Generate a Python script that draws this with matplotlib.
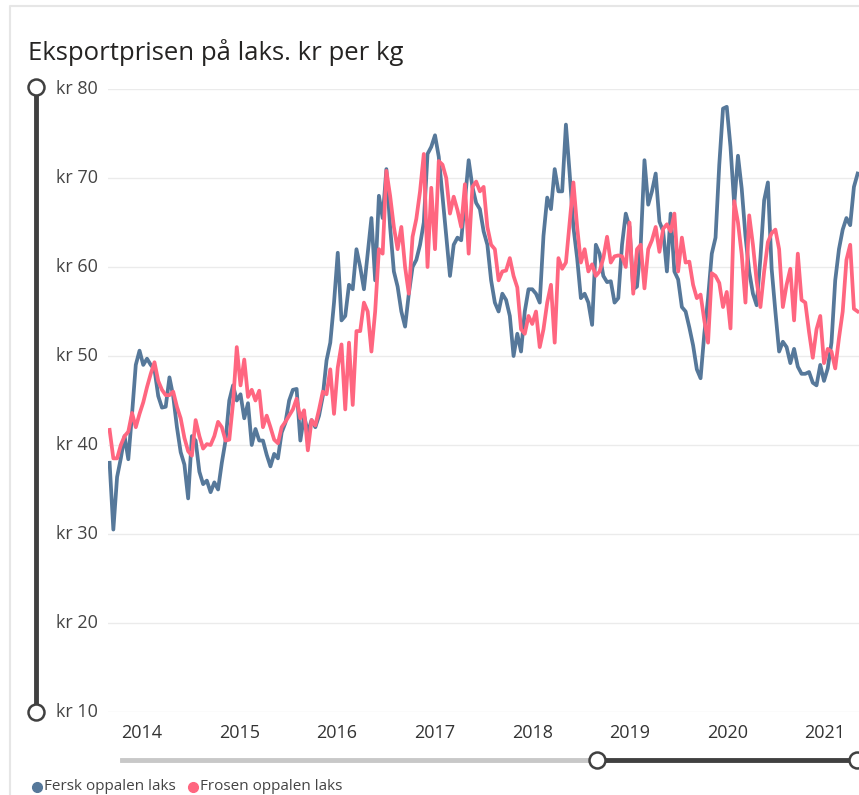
#!/usr/bin/env python3

import pandas as pd
import matplotlib
matplotlib.use("Agg")
import matplotlib.pyplot as plt

plt.rcParams["font.family"] = ["Open Sans", "DejaVu Sans"]

# biweekly export prices, kr per kg
start = "2013-09-02"

fersk = [
    38, 30.5, 36.4, 38.5, 41, 38.4, 43.5, 49, 50.6, 49,
    49.7, 49, 48.5, 45.5, 44.2, 44.3, 47.6, 45.5, 42, 39.2,
    37.8, 34, 41, 40.5, 37, 35.6, 36, 34.7, 35.8, 35,
    38, 40.5, 45, 46.7, 45, 45.7, 43, 44.7, 40, 41.8,
    40.5, 40.5, 38.9, 37.6, 39, 38.5, 41.4, 42.5, 45, 46.2,
    46.3, 40.5, 43.3, 41.4, 42.8, 42, 43.3, 45.5, 49.5, 51.5,
    56, 61.6, 54, 54.5, 58, 57.5, 62, 60, 57.5, 61.5,
    65.5, 58.5, 68, 65.5, 71, 64.5, 59.5, 57.8, 55, 53.3,
    57, 60, 60.8, 62.5, 65, 72.7, 73.5, 74.8, 72.4, 68,
    63.5, 59, 62.5, 63.3, 63, 67.5, 72, 69, 67.2, 66.5,
    64, 62.5, 58.5, 56, 55, 57, 56.3, 54.5, 50, 52.5,
    50.5, 55, 57.5, 57.5, 57, 56, 63.5, 67.8, 66.5, 71,
    68.5, 68.5, 76, 70.5, 64.5, 61, 56.5, 57, 56, 53.5,
    62.5, 61.5, 59, 58.3, 58.4, 56, 56.5, 62.5, 66, 64.5,
    57.5, 57.8, 62.5, 72, 67, 68.5, 70.5, 65.1, 64, 59.5,
    66, 59.5, 58.6, 55.5, 55, 53.2, 51.2, 48.5, 47.5, 52.5,
    56.5, 61.5, 63.3, 71.5, 77.8, 78, 73.5, 67, 72.5, 68.8,
    63.5, 59.5, 57, 55.7, 61, 67.5, 69.5, 59.8, 55, 50.5,
    51.6, 51, 49.2, 50.8, 48.8, 48, 48, 48.2, 47, 46.7,
    49, 47.2, 48.6, 51.5, 58.5, 62, 64.2, 65.5, 64.7, 69,
    70.5,
]

frosen = [
    41.7, 38.5, 38.5, 40, 41, 41.5, 43.6, 42, 43.5, 44.8,
    46.5, 48, 49.3, 47.2, 46.2, 45.6, 45.6, 46, 44.3, 43,
    40.8, 39.3, 38.8, 42.8, 41, 39.6, 40.1, 40, 41, 42.6,
    42, 40.5, 40.6, 44.7, 51, 46.7, 49.6, 45.4, 46.2, 45,
    46.1, 42, 43.3, 42, 40.6, 40.2, 42, 42.6, 43.3, 44,
    45.2, 43, 43.9, 39.4, 42.8, 42.2, 44, 46, 45.7, 48.5,
    43.5, 48.7, 51.3, 44, 51.5, 44.5, 52.8, 52.8, 56, 55,
    50.5, 55, 62, 61.5, 70.8, 68, 64.5, 62, 64.5, 60,
    57, 63.4, 65.4, 68.5, 72.7, 60, 68.9, 62, 71.9, 71.5,
    70, 66, 67.9, 66.4, 64.5, 69.3, 61.5, 69, 69.6, 68.5,
    69, 64.5, 62.5, 62, 58.5, 59.5, 59.6, 61, 59, 57.7,
    53, 52.5, 54.5, 53.6, 55, 51, 53, 56, 58, 51.5,
    61, 59.8, 60.5, 65, 69.5, 64.5, 60.5, 62, 59.5, 60.3,
    59, 59.5, 61, 63.4, 60.5, 61.2, 61.3, 61.2, 60, 65,
    57, 62, 62.5, 57.6, 62, 63, 64.5, 61.7, 64.3, 64.8,
    64, 66, 59.5, 63.3, 60.5, 60.6, 58, 56.5, 56.9, 54,
    51.5, 59.3, 59, 58.2, 55.5, 57.2, 53.1, 67.4, 65, 61.4,
    56, 65.8, 62.5, 58.4, 55.5, 59.5, 62.8, 63.8, 64.2, 62,
    55.5, 58, 59.8, 54, 61.5, 56.3, 56, 52.7, 49.8, 53,
    54.5, 49.2, 50.8, 50.5, 48.6, 52, 55, 60.8, 62.5, 55.3,
    55,
]

years = list(range(2014, 2022))
yvals = list(range(10, 81, 10))
labels = ["Fersk oppalen laks", "Frosen oppalen laks"]

BLUE = "#56789a"
PINK = "#ff6680"
DARK = "#404040"

dates = pd.date_range(start, periods=len(fersk), freq="14D")

W, H = 859, 795
fig = plt.figure(figsize=(W / 100, H / 100), dpi=100)
ax = fig.add_axes([108 / W, (H - 712) / H, (W - 108) / W, (712 - 89) / H])

ax.plot(dates, fersk, color=BLUE, lw=2.7, solid_joinstyle="round")
ax.plot(dates, frosen, color=PINK, lw=2.7, solid_joinstyle="round")

ax.set_ylim(10, 80)
ax.set_xlim(pd.Timestamp("2013-08-27"), pd.Timestamp("2021-05-08"))
ax.set_yticks(yvals)
ax.set_yticklabels([])
ax.grid(axis="y", color="#ebebeb", lw=1)
ax.set_axisbelow(True)
ax.set_xticks([pd.Timestamp(f"{y}-01-01") for y in years])
ax.set_xticklabels([str(y) for y in years], fontsize=13, color="#333333")
ax.tick_params(length=0, axis="x", pad=9)
ax.tick_params(length=0, axis="y")
for s in ax.spines.values():
    s.set_visible(False)

for v in yvals:
    ax.text(-52 / 751, v, f"kr {v}", transform=ax.get_yaxis_transform(),
            ha="left", va="center", fontsize=13, color="#444444")

# decorations in pixel coordinates
deco = fig.add_axes([0, 0, 1, 1], zorder=3)
deco.patch.set_alpha(0)
deco.set_xlim(0, W)
deco.set_ylim(H, 0)
deco.axis("off")

deco.plot([10, 10, W], [H, 6, 6], color="#e6e6e6", lw=1.5)
deco.text(28, 53, "Eksportprisen på laks. kr per kg", fontsize=18.5,
          color="#252423", ha="left", va="center")

# vertical range slider
deco.plot([36, 36], [87, 712], color=DARK, lw=3.5, solid_capstyle="butt")
deco.plot([36, 36], [87, 712], "o", ms=11.5, mfc="white", mec=DARK, mew=1.8)

# horizontal range slider
deco.plot([122, 597], [760, 760], color="#c8c8c8", lw=3.5)
deco.plot([597, W], [760, 760], color=DARK, lw=3.5)
deco.plot([597, 857], [760, 760], "o", ms=11.5, mfc="white", mec=DARK, mew=1.8)

# legend
for x, col, lab in [(37, BLUE, labels[0]), (193, PINK, labels[1])]:
    deco.plot(x, 787, "o", color=col, ms=7)
    deco.text(x + 7, 787, lab, fontsize=11, color="#444444",
              ha="left", va="center")

fig.savefig("out.png", dpi=100)
